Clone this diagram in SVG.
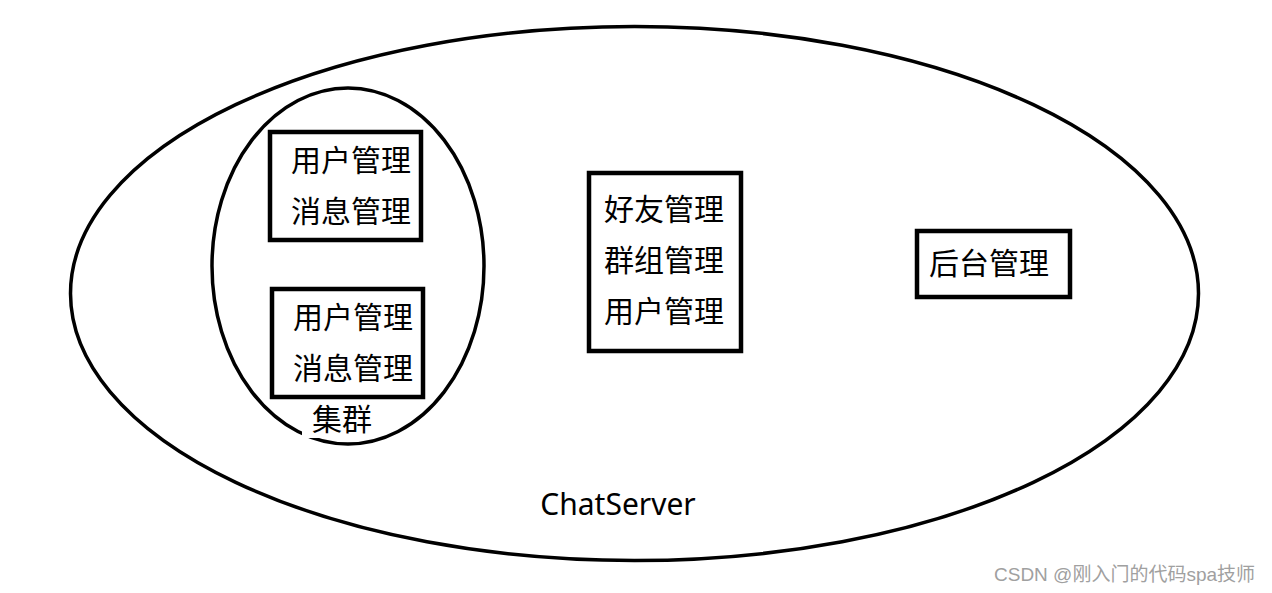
<svg xmlns="http://www.w3.org/2000/svg" width="1272" height="593" viewBox="0 0 1272 593">
<style>
.shape{fill:none;stroke:#000;stroke-width:3.5}
.box{fill:#fff;stroke:#000;stroke-width:4.5}
.t{font-family:"Noto Sans CJK SC","Noto Sans",sans-serif;font-size:30px;fill:#000}
.wm{font-family:"Liberation Sans","Noto Sans CJK SC",sans-serif;font-size:19px;fill:#a0a0a0}
</style>
<rect width="1272" height="593" fill="#fff"/>
<g id="chatserver">
<ellipse class="shape" cx="634.5" cy="293.5" rx="564" ry="267"/>
<text class="t" x="618" y="515" text-anchor="middle" style="font-family:'Noto Sans',sans-serif">ChatServer</text>
</g>
<g id="cluster">
<ellipse class="shape" cx="348" cy="266" rx="136" ry="178"/>
<rect x="302" y="404" width="74" height="34" fill="#fff"/>
<text class="t" x="342" y="430" text-anchor="middle">集群</text>
</g>
<g id="server1">
<rect class="box" x="270" y="132" width="151" height="108"/>
<text class="t" x="291" y="171">用户管理</text>
<text class="t" x="291" y="222">消息管理</text>
</g>
<g id="server2">
<rect class="box" x="272" y="289" width="151" height="108"/>
<text class="t" x="293" y="328">用户管理</text>
<text class="t" x="293" y="379">消息管理</text>
</g>
<g id="services">
<rect class="box" x="589" y="173" width="152" height="178"/>
<text class="t" x="604" y="220">好友管理</text>
<text class="t" x="604" y="271">群组管理</text>
<text class="t" x="604" y="322">用户管理</text>
</g>
<g id="admin">
<rect class="box" x="917" y="231" width="153" height="66"/>
<text class="t" x="929" y="274">后台管理</text>
</g>
<g id="connectors"></g>
<text class="wm" x="994" y="581">CSDN @刚入门的代码spa技师</text>
</svg>
